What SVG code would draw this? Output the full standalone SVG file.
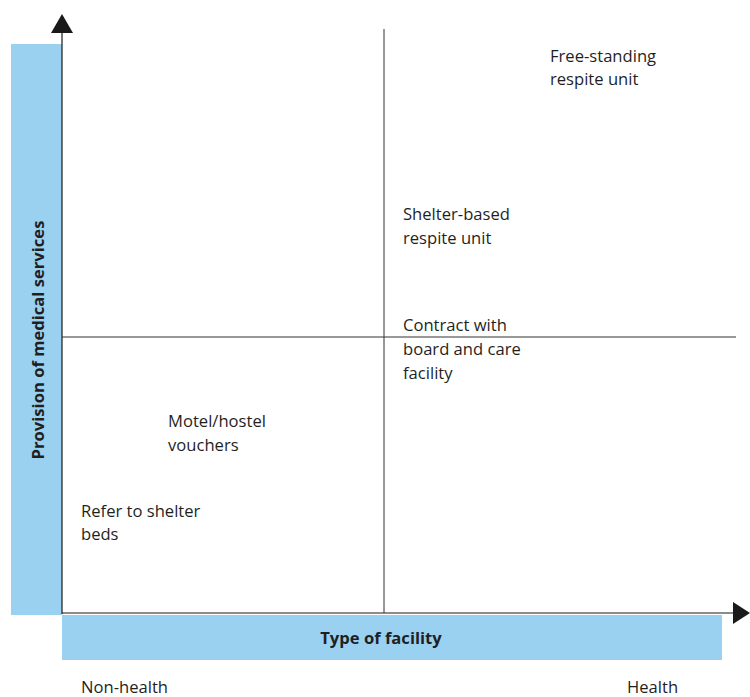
<svg xmlns="http://www.w3.org/2000/svg" width="750" height="697" viewBox="0 0 750 697">
  <style>
    .band { fill: #9ad1f1; }
    .axis { stroke: #1a1a1a; stroke-width: 1.2; fill: none; }
    .grid { stroke: #333333; stroke-width: 1; fill: none; }
    .head { fill: #1a1a1a; }
    .lbl { font-family: "Open Sans", "Noto Sans", "Liberation Sans", sans-serif; font-size: 16.6px; fill: #1f1f1f; }
    .title { font-family: "Open Sans", "Noto Sans", "Liberation Sans", sans-serif; font-size: 16.6px; font-weight: bold; fill: #1f1f1f; }
  </style>

  <!-- axis bands -->
  <g id="y-band">
    <rect class="band" x="11" y="44" width="51" height="571"/>
    <text class="title" transform="translate(44,340) rotate(-90)" text-anchor="middle">Provision of medical services</text>
  </g>
  <g id="x-band">
    <rect class="band" x="62" y="615" width="660" height="45"/>
    <text class="title" x="381" y="644" text-anchor="middle">Type of facility</text>
  </g>

  <!-- axes and quadrant dividers -->
  <g id="connectors">
    <line class="axis" x1="62" y1="30" x2="62" y2="614"/>
    <polygon class="head" points="62,14 51,33 73,33"/>
    <line class="axis" x1="62" y1="613" x2="734" y2="613"/>
    <polygon class="head" points="750,613 733,602 733,624"/>
    <line class="grid" x1="384" y1="29" x2="384" y2="613"/>
    <line class="grid" x1="62" y1="337" x2="736" y2="337"/>
  </g>

  <g id="free-standing">
    <text class="lbl" x="550" y="62">Free-standing</text>
    <text class="lbl" x="550" y="85">respite unit</text>
  </g>
  <g id="shelter-based">
    <text class="lbl" x="403" y="220">Shelter-based</text>
    <text class="lbl" x="403" y="244">respite unit</text>
  </g>
  <g id="contract">
    <text class="lbl" x="403" y="331">Contract with</text>
    <text class="lbl" x="403" y="355">board and care</text>
    <text class="lbl" x="403" y="379">facility</text>
  </g>
  <g id="motel">
    <text class="lbl" x="168" y="427">Motel/hostel</text>
    <text class="lbl" x="168" y="451">vouchers</text>
  </g>
  <g id="shelter-beds">
    <text class="lbl" x="81" y="517">Refer to shelter</text>
    <text class="lbl" x="81" y="540">beds</text>
  </g>
  <g id="scale-ends">
    <text class="lbl" x="81" y="693">Non-health</text>
    <text class="lbl" x="627" y="693">Health</text>
  </g>
</svg>
